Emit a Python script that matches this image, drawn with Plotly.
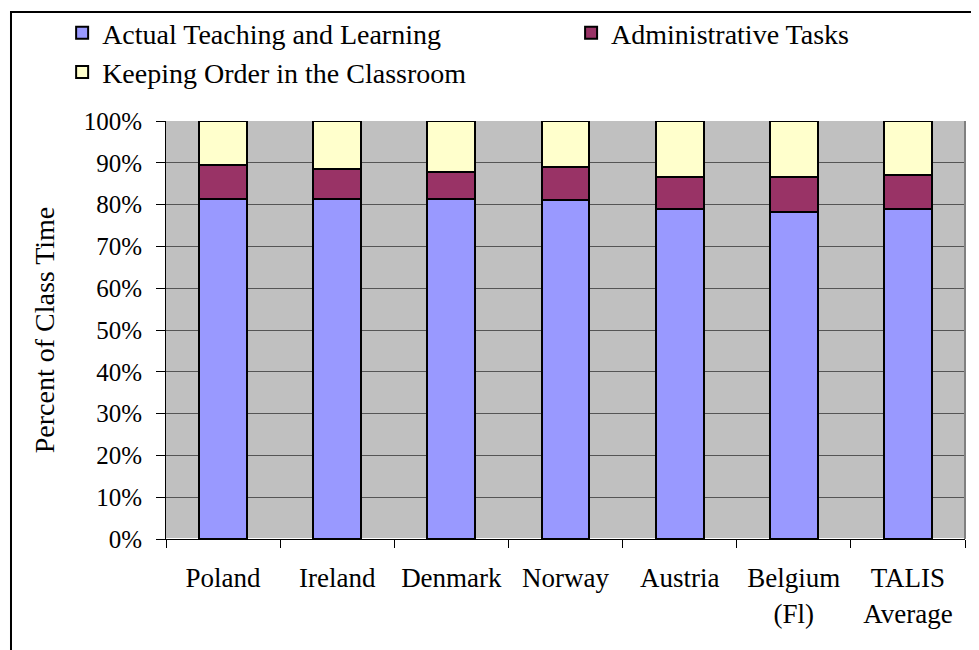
import plotly.graph_objects as go

# Data (percent of class time)
countries = ["Poland", "Ireland", "Denmark", "Norway", "Austria", "Belgium<br>(Fl)", "TALIS<br>Average"]
teaching = [81.4, 81.4, 81.4, 81.0, 79.0, 78.3, 79.0]
admin = [8.1, 7.1, 6.3, 7.9, 7.7, 8.4, 8.2]
order = [10.5, 11.5, 12.3, 11.1, 13.3, 13.3, 12.8]

y_ticks = list(range(0, 101, 10))

FONT = "Liberation Serif, Times New Roman, serif"

fig = go.Figure()

# (name, values, colour, legend box)
series = [
    ("Actual Teaching and Learning", teaching, "#9999FF", "legend"),
    ("Administrative Tasks", admin, "#993366", "legend2"),
    ("Keeping Order in the Classroom", order, "#FFFFCC", "legend"),
]
for name, vals, color, leg in series:
    fig.add_trace(go.Bar(
        x=countries, y=vals, name=name, legend=leg,
        marker=dict(color=color, line=dict(color="black", width=2)),
        width=0.42,
    ))

# outer chart border (runs off the right / bottom of the picture)
fig.add_shape(type="rect", xref="paper", yref="paper",
              x0=-0.194, x1=1.2, y0=-0.5, y1=1.261,
              line=dict(color="black", width=2), fillcolor="rgba(0,0,0,0)", layer="below")

# grey right edge of the plot area
fig.add_shape(type="line", xref="paper", yref="paper", x0=1, x1=1, y0=0, y1=1,
              line=dict(color="#808080", width=2))

legend_style = dict(
    orientation="v", yanchor="top", xanchor="left", yref="container", y=1.0,
    font=dict(family=FONT, size=28), traceorder="normal",
    bgcolor="rgba(0,0,0,0)", tracegroupgap=0, itemwidth=30,
)

# page body has an 8px margin, so the figure is a bit smaller than the window
fig.update_layout(
    barmode="stack",
    width=971, height=642,
    margin=dict(l=158, r=14, t=113, b=111),
    paper_bgcolor="white",
    plot_bgcolor="#C0C0C0",
    font=dict(family=FONT, size=26, color="black"),
    legend=dict(x=-0.130, **legend_style),
    legend2=dict(x=0.507, **legend_style),
    showlegend=True,
)

fig.update_xaxes(
    automargin=False,
    showline=True, linecolor="black", linewidth=1,
    ticks="outside", tickson="boundaries", ticklen=8, tickcolor="black",
    tickfont=dict(family=FONT, size=27), showgrid=False,
    ticklabelstandoff=15,
)
fig.update_yaxes(
    automargin=False,
    range=[0, 100], tickvals=y_ticks, ticktext=[f"{v}%" for v in y_ticks],
    showline=True, linecolor="black", linewidth=1,
    ticks="outside", ticklen=9, tickcolor="black",
    showgrid=True, gridcolor="#555555", gridwidth=1,
    tickfont=dict(family=FONT, size=25), ticklabelstandoff=9,
    title=dict(text="Percent of Class Time", font=dict(family=FONT, size=28), standoff=20),
)

fig.write_html("out.html")
